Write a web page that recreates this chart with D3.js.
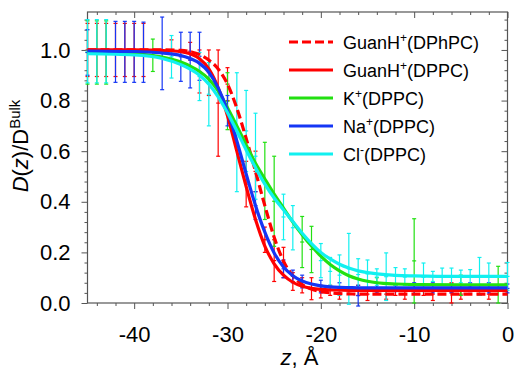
<!DOCTYPE html>
<html>
<head>
<meta charset="utf-8">
<script src="https://d3js.org/d3.v7.min.js"></script>
<style>
  body { margin: 0; background: #fff; }
  text { font-family: Arial, "Liberation Sans", sans-serif; fill: #000; }
</style>
</head>
<body>
<div id="chart"></div>
<script>
// fitted curves at these z values
var zGrid = [-45, -40, -37, -35, -34, -33, -32, -31, -30, -29, -28, -27, -26, -25, -24,
             -23, -22, -21, -20, -19, -18, -17, -16, -15, -14, -12, -10, -5, 0];

var guanDphpcFit = [1.0, 1.0, 1.0, 0.998, 0.993, 0.982, 0.96, 0.925, 0.865, 0.77, 0.65, 0.52, 0.385, 0.26, 0.165,
                    0.108, 0.073, 0.055, 0.045, 0.04, 0.037, 0.036, 0.035, 0.035, 0.035, 0.035, 0.035, 0.035, 0.035];
var guanDppcFit  = [1.0, 1.0, 0.998, 0.993, 0.985, 0.965, 0.925, 0.85, 0.74, 0.6, 0.46, 0.33, 0.225, 0.155, 0.11,
                    0.082, 0.066, 0.058, 0.054, 0.052, 0.051, 0.05, 0.05, 0.05, 0.05, 0.05, 0.05, 0.05, 0.05];
var kFit         = [0.99, 0.985, 0.972, 0.952, 0.936, 0.915, 0.885, 0.838, 0.772, 0.70, 0.625, 0.552, 0.49, 0.43, 0.375,
                    0.32, 0.27, 0.225, 0.185, 0.152, 0.127, 0.108, 0.095, 0.086, 0.08, 0.075, 0.073, 0.072, 0.072];
var naFit        = [0.995, 0.994, 0.988, 0.978, 0.966, 0.947, 0.912, 0.85, 0.76, 0.64, 0.51, 0.385, 0.28, 0.198, 0.142,
                    0.108, 0.087, 0.075, 0.068, 0.064, 0.062, 0.061, 0.06, 0.06, 0.06, 0.06, 0.06, 0.06, 0.06];
var clFit        = [0.985, 0.98, 0.966, 0.942, 0.924, 0.9, 0.865, 0.815, 0.752, 0.68, 0.605, 0.535, 0.47, 0.415, 0.368,
                    0.322, 0.276, 0.235, 0.2, 0.174, 0.153, 0.138, 0.127, 0.12, 0.115, 0.109, 0.107, 0.105, 0.105];

// error bars (z, low end, high end)
var guanDphpcErrZ  = [-36, -34, -30, -27, -24, -22, -20, -18, -15, -13, -11, -8, -5, -2];
var guanDphpcErrLo = [0.96, 0.96, 0.8, 0.44, 0.1, 0.04, 0.02, 0.015, 0.01, 0.015, 0.015, 0.01, 0.015, 0.015];
var guanDphpcErrHi = [1.04, 1.03, 0.93, 0.6, 0.22, 0.1, 0.07, 0.06, 0.06, 0.055, 0.055, 0.06, 0.055, 0.055];

var guanDppcErrZ  = [-45, -44, -43, -42, -41, -40, -39, -33, -32, -31, -28, -26, -25, -23, -21, -19, -16, -12, -9, -6, -3];
var guanDppcErrLo = [0.895, 0.895, 0.895, 0.895, 0.895, 0.895, 0.895, 0.83, 0.82, 0.58, 0.38, 0.2, 0.085, 0.05, 0.013,
                     0.03, 0.03, 0.03, 0.03, 0.0, 0.03];
var guanDppcErrHi = [1.105, 1.105, 1.105, 1.105, 1.105, 1.105, 1.105, 1.0, 1.0, 1.0, 0.56, 0.3, 0.25, 0.12, 0.1,
                     0.07, 0.07, 0.07, 0.07, 0.08, 0.07];

var kErrZ  = [-45, -44, -43, -38, -30, -26, -25, -22, -21, -14, -10, -5, -1];
var kErrLo = [0.865, 0.865, 0.865, 0.915, 0.685, 0.33, 0.224, 0.14, 0.12, 0.06, 0.0, 0.03, 0.0];
var kErrHi = [1.115, 1.115, 1.115, 1.043, 0.91, 0.635, 0.58, 0.342, 0.303, 0.1, 0.333, 0.11, 0.145];

var naErrZ  = [-45, -42, -41, -40, -39, -37, -35, -34, -33, -30, -27, -24, -23, -22, -20, -18, -16, -14, -12, -10, -8, -6, -4, -2, 0];
var naErrLo = [0.9, 0.872, 0.872, 0.872, 0.872, 0.843, 0.876, 0.85, 0.88, 0.7, 0.33, 0.1, 0.08, 0.06, 0.04, 0.04, -0.012,
               0.04, 0.045, 0.035, 0.04, 0.04, 0.045, 0.04, 0.04];
var naErrHi = [1.08, 1.113, 1.113, 1.113, 1.11, 1.13, 1.07, 1.07, 1.07, 0.82, 0.44, 0.17, 0.13, 0.11, 0.09, 0.08, 0.07,
               0.08, 0.075, 0.08, 0.08, 0.075, 0.08, 0.08, 0.075];

var clErrZ  = [-45, -44, -43, -36, -33, -32, -29, -28, -27, -24, -23, -20, -19, -18, -17, -16, -15, -14, -13, -12, -11,
               -9, -8, -7, -6, -5, -4, -3, -2, 0];
var clErrLo = [0.87, 0.87, 0.87, 0.889, 0.8, 0.7, 0.44, 0.52, 0.41, 0.25, 0.21, 0.1, 0.07, 0.03, -0.005, 0.05, 0.06,
               0.07, 0.01, 0.07, 0.07, 0.045, 0.085, 0.07, 0.07, 0.08, 0.075, 0.03, 0.05, 0.05];
var clErrHi = [1.12, 1.12, 1.12, 1.057, 0.99, 0.95, 0.91, 0.84, 0.75, 0.43, 0.385, 0.235, 0.18, 0.19, 0.275, 0.175, 0.17,
               0.135, 0.198, 0.14, 0.135, 0.158, 0.125, 0.138, 0.138, 0.13, 0.132, 0.18, 0.158, 0.16];

// axis ticks
var xMajor = [-40, -30, -20, -10, 0];
var xTickLabels = ["-40", "-30", "-20", "-10", "0"];
var xMinor = [-44, -42, -38, -36, -34, -32, -28, -26, -24, -22, -18, -16, -14, -12, -8, -6, -4, -2];
var yMajor = [0, 0.2, 0.4, 0.6, 0.8, 1.0];
var yTickLabels = ["0.0", "0.2", "0.4", "0.6", "0.8", "1.0"];
var yMinor = [0.04, 0.08, 0.12, 0.16, 0.24, 0.28, 0.32, 0.36, 0.44, 0.48, 0.52, 0.56,
              0.64, 0.68, 0.72, 0.76, 0.84, 0.88, 0.92, 0.96, 1.04, 1.08, 1.12];

var series = [
  {name: "GuanH", sup: "+", tail: "(DPhPC)", color: "#ff0000", dash: "9,4",
   fit: guanDphpcFit, errZ: guanDphpcErrZ, errLo: guanDphpcErrLo, errHi: guanDphpcErrHi},
  {name: "GuanH", sup: "+", tail: "(DPPC)", color: "#ff0000", dash: null,
   fit: guanDppcFit, errZ: guanDppcErrZ, errLo: guanDppcErrLo, errHi: guanDppcErrHi},
  {name: "K", sup: "+", tail: "(DPPC)", color: "#22e011", dash: null,
   fit: kFit, errZ: kErrZ, errLo: kErrLo, errHi: kErrHi},
  {name: "Na", sup: "+", tail: "(DPPC)", color: "#1536f5", dash: null,
   fit: naFit, errZ: naErrZ, errLo: naErrLo, errHi: naErrHi},
  {name: "Cl", sup: "-", tail: "(DPPC)", color: "#11f0f0", dash: null,
   fit: clFit, errZ: clErrZ, errLo: clErrLo, errHi: clErrHi}
];

// set the dimensions and margins of the graph
var margin = {top: 12, right: 6.5, bottom: 67, left: 87.5},
    width = 514 - margin.left - margin.right,
    height = 370 - margin.top - margin.bottom;

var x = d3.scaleLinear().domain([-45, 0]).range([0, width]);
var y = d3.scaleLinear().domain([0, 1.15]).range([height, 0]);

var svg = d3.select("#chart")
  .append("svg")
    .attr("width", width + margin.left + margin.right)
    .attr("height", height + margin.top + margin.bottom)
  .append("g")
    .attr("transform", "translate(" + margin.left + "," + margin.top + ")");

var axisColor = "#555";

// minor ticks first
svg.append("g")
    .attr("transform", "translate(0," + height + ")")
    .call(d3.axisBottom(x).tickValues(xMinor).tickSize(3).tickFormat(""));
svg.append("g")
    .call(d3.axisTop(x).tickValues(xMinor).tickSize(-3).tickFormat(""));
svg.append("g")
    .call(d3.axisLeft(y).tickValues(yMinor).tickSize(3).tickFormat(""));
svg.append("g")
    .attr("transform", "translate(" + width + ",0)")
    .call(d3.axisRight(y).tickValues(yMinor).tickSize(-3).tickFormat(""));

// major ticks
svg.append("g")
    .attr("class", "xaxis")
    .attr("transform", "translate(0," + height + ")")
    .call(d3.axisBottom(x).tickValues(xMajor).tickSize(6).tickPadding(17)
      .tickFormat(function(d, i) { return xTickLabels[i]; }));
svg.append("g")
    .call(d3.axisTop(x).tickValues(xMajor).tickSize(-6).tickFormat(""));
svg.append("g")
    .attr("class", "yaxis")
    .call(d3.axisLeft(y).tickValues(yMajor).tickSize(6).tickPadding(11)
      .tickFormat(function(d, i) { return yTickLabels[i]; }));
svg.append("g")
    .attr("transform", "translate(" + width + ",0)")
    .call(d3.axisRight(y).tickValues(yMajor).tickSize(-6).tickFormat(""));

svg.selectAll(".domain").remove();
svg.selectAll(".tick line").attr("stroke", axisColor);
svg.selectAll(".tick text").style("font-size", "22px").attr("fill", "#000");

// frame
svg.append("rect")
    .attr("width", width)
    .attr("height", height)
    .attr("fill", "none")
    .attr("stroke", axisColor)
    .attr("stroke-width", 1.2);

// error bars
series.forEach(function(s) {
  var g = svg.append("g").attr("stroke", s.color).attr("stroke-width", 1.2);
  s.errZ.forEach(function(z, i) {
    var cx = x(z), lo = y(s.errLo[i]), hi = y(s.errHi[i]),
        mid = y((s.errLo[i] + s.errHi[i]) / 2);
    g.append("line").attr("x1", cx).attr("x2", cx).attr("y1", lo).attr("y2", hi);
    [lo, hi, mid].forEach(function(yy) {
      g.append("line").attr("x1", cx - 2).attr("x2", cx + 2).attr("y1", yy).attr("y2", yy);
    });
  });
});

// fitted lines
var line = d3.line()
    .curve(d3.curveMonotoneX)
    .x(function(d) { return x(d[0]); })
    .y(function(d) { return y(d[1]); });

series.forEach(function(s) {
  svg.append("path")
      .datum(zGrid.map(function(z, i) { return [z, s.fit[i]]; }))
      .attr("d", line)
      .attr("fill", "none")
      .attr("stroke", s.color)
      .attr("stroke-width", 3.2)
      .attr("stroke-dasharray", s.dash);
});

// legend
var legend = svg.append("g").attr("transform", "translate(201.5,30)");
series.forEach(function(s, i) {
  var row = legend.append("g").attr("transform", "translate(0," + (i * 28) + ")");
  row.append("line")
      .attr("x1", 0).attr("x2", 44)
      .attr("stroke", s.color)
      .attr("stroke-width", 3.2)
      .attr("stroke-dasharray", s.dash);
  var t = row.append("text")
      .attr("x", 54).attr("y", 7)
      .style("font-size", "18px");
  t.append("tspan").text(s.name);
  t.append("tspan").attr("dy", -7).style("font-size", "12px").text(s.sup);
  t.append("tspan").attr("dy", 7).text(s.tail);
});

// axis titles
var xt = svg.append("text")
    .attr("x", width / 2 + 2)
    .attr("y", height + 62)
    .attr("text-anchor", "middle")
    .style("font-size", "22px");
xt.append("tspan").style("font-style", "italic").text("z");
xt.append("tspan").text(", \u00C5");

var yt = svg.append("text")
    .attr("transform", "translate(" + (-59.5) + "," + (134) + ") rotate(-90)")
    .attr("text-anchor", "middle")
    .style("font-size", "22px");
yt.append("tspan").style("font-style", "italic").text("D");
yt.append("tspan").text("(");
yt.append("tspan").style("font-style", "italic").text("z");
yt.append("tspan").text(")/D");
yt.append("tspan").attr("dy", -8).style("font-size", "15px").text("Bulk");
</script>
</body>
</html>
